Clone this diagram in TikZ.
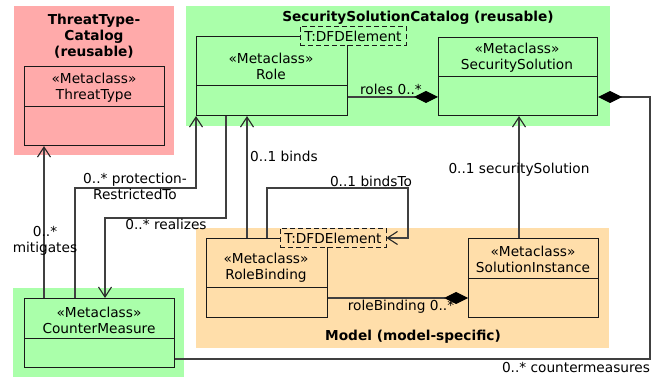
\documentclass[tikz,border=0pt]{standalone}
\usepackage{fontspec}
\setmainfont{DejaVu Sans}
\usetikzlibrary{arrows.meta}

\definecolor{pinkbg}{RGB}{255,170,170}
\definecolor{greenbg}{RGB}{170,255,170}
\definecolor{orangebg}{RGB}{255,222,170}

\begin{document}
\begin{tikzpicture}[x=1pt, y=-1pt,
		every node/.style={font=\fontsize{13.7}{16}\selectfont, inner sep=0pt, align=center},
		cls/.style={draw=black!90, line width=1.1pt, rectangle, anchor=north west},
		divider/.style={draw=black!90, line width=0.9pt},
		tmpl/.style={draw=black!90, line width=1pt, dash pattern=on 5pt off 3pt, rectangle, minimum width=106pt, minimum height=19pt},
		title/.style={font=\fontsize{13.7}{16}\selectfont\bfseries},
		conn/.style={draw=black!75, line width=1.1pt},
		assoc/.style={conn, -{Straight Barb[length=10pt, width=13pt, color=black!85]}},
		comp/.style={conn, {Diamond[length=24pt, width=12pt, color=black]}-}
	]
	\useasboundingbox (0,0) rectangle (662,379);

	% packages
	\fill[pinkbg] (14,6) rectangle (174,155);
	\fill[greenbg] (186,6) rectangle (610,126);
	\fill[orangebg] (196,228) rectangle (609,348);
	\fill[greenbg] (13,288) rectangle (184,377);
	\node[title] (threatCat) at (94,36) {ThreatType-\\Catalog\\(reusable)};
	\node[title] (solCat) at (418,18) {SecuritySolutionCatalog (reusable)};
	\node[title] (model) at (413,337) {Model (model-specific)};

	% metaclasses
	\node[cls, minimum width=140pt, minimum height=79pt] (tt) at (24,66) {};
	\draw[divider] (tt.west |- 0,106) -- (tt.east |- 0,106);
	\node (ttName) at (94,88) {«Metaclass»\\ThreatType};

	\node[cls, minimum width=151pt, minimum height=79pt] (role) at (196,36) {};
	\draw[divider] (role.west |- 0,85) -- (role.east |- 0,85);
	\node (roleName) at (271,66) {«Metaclass»\\Role};
	\node[tmpl, fill=greenbg] (roleT) at (353,36) {T:DFDElement};

	\node[cls, minimum width=159pt, minimum height=78pt] (secsol) at (438,37) {};
	\draw[divider] (secsol.west |- 0,76) -- (secsol.east |- 0,76);
	\node (secsolName) at (517,58) {«Metaclass»\\SecuritySolution};

	\node[cls, minimum width=121pt, minimum height=79pt] (rb) at (206,238) {};
	\draw[divider] (rb.west |- 0,287) -- (rb.east |- 0,287);
	\node (rbName) at (266,268) {«Metaclass»\\RoleBinding};
	\node[tmpl, fill=orangebg] (rbT) at (333,238) {T:DFDElement};

	\node[cls, minimum width=130pt, minimum height=79pt] (si) at (468,238) {};
	\draw[divider] (si.west |- 0,278) -- (si.east |- 0,278);
	\node (siName) at (533,259) {«Metaclass»\\SolutionInstance};

	\node[cls, minimum width=150pt, minimum height=69pt] (cm) at (24,298) {};
	\draw[divider] (cm.west |- 0,338) -- (cm.east |- 0,338);
	\node (cmName) at (99,320) {«Metaclass»\\CounterMeasure};

	% associations
	\draw[comp] (secsol.west |- 0,97) -- (role.east |- 0,97);
	\node (rolesLbl) at (391,89) {roles 0..*};

	\draw[comp] (secsol.east |- 0,97) -| (650,359) -- (cm.east |- 0,359);
	\node (cmsLbl) at (576,368) {0..* countermeasures};

	\draw[comp] (si.west |- 0,298) -- (rb.east |- 0,298);
	\node (rbLbl) at (401,307) {roleBinding 0..*};

	\draw[assoc] (si.north -| 519,0) -- (secsol.south -| 519,0);
	\node (ssLbl) at (519,170) {0..1 securitySolution};

	\draw[assoc] (rb.north -| 267,0) |- (408,188) |- (rbT.east);
	\node (bindsToLbl) at (371,181) {0..1 bindsTo};

	\draw[assoc] (rb.north -| 247,0) -- (role.south -| 247,0);
	\node (bindsLbl) at (284,156) {0..1 binds};

	\draw[assoc] (cm.north -| 75,0) |- (role.south west |- 0,188) -- (role.south west);
	\node (protLbl) at (135,186) {0..* protection-\\RestrictedTo};

	\draw[assoc] (role.south -| 226,0) |- (105,218) -- (cm.north -| 105,0);
	\node (realLbl) at (166,224) {0..* realizes};

	\draw[assoc] (cm.north -| 44,0) -- (tt.south -| 44,0);
	\node (mitLbl) at (45,241) {0..*\\mitigates};
\end{tikzpicture}
\end{document}
